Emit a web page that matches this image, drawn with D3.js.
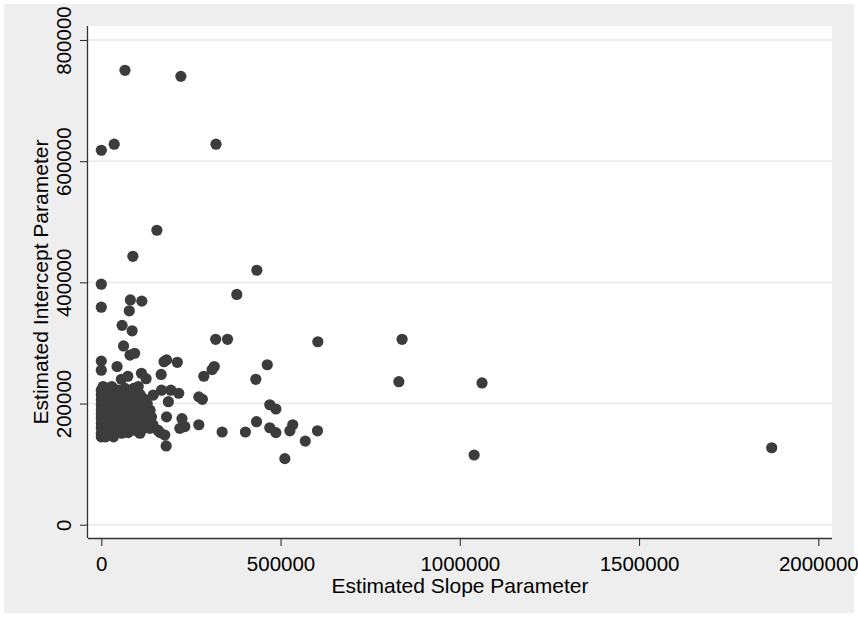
<!DOCTYPE html>
<html>
<head>
<meta charset="utf-8">
<script src="https://cdn.jsdelivr.net/npm/d3@7"></script>
<style>
  html, body { margin: 0; padding: 0; background: #ffffff; }
  svg { display: block; }
  text { font-family: "Liberation Sans", Arial, Helvetica, sans-serif; fill: #000; }
</style>
</head>
<body>
<svg id="chart" width="858" height="617"></svg>
<script>
// Estimated slope parameter (x) values
const slopes = [
  66000, 222000, 0, 36000, 320000, 155000, 88000, 434000, 0, 378000,
  81000, 113000, 0, 78000, 58000, 86000, 319000, 352000, 62000, 93000,
  80000, 604000, 839000, 830000, 1062000, 1040000, 1870000,
  463000, 431000, 470000, 487000, 433000, 402000, 470000, 487000, 534000,
  526000, 603000, 569000, 512000, 337000, 315000, 309000, 286000, 272000,
  282000, 272000,
  0, 0, 44000, 175000, 182000, 212000, 167000, 56000, 74000, 112000, 125000,
  29000, 66000, 103000, 145000, 168000, 194000, 216000, 187000, 136000, 131000,
  182000, 225000, 233000, 219000, 108000, 164000, 136000, 181000, 177000,
  34000, 57000, 0, 0, 144000, 158000,
  0, 0, 0, 0, 0, 0, 0, 0, 0,
  10000, 12000, 8000, 10000, 15000, 18000, 20000, 22000, 25000, 28000,
  30000, 32000, 35000, 38000, 40000, 42000, 45000, 48000, 50000, 52000,
  55000, 58000, 60000, 62000, 65000, 68000, 70000, 72000, 75000, 78000,
  80000, 82000, 85000, 88000, 90000, 92000, 95000, 98000, 100000, 102000,
  105000, 108000, 110000, 112000, 115000, 118000, 120000, 122000, 125000, 128000,
  5000, 15000, 45000, 90000, 130000, 140000, 12000, 20000
];
// Estimated intercept parameter (y) values
const intercepts = [
  750000, 740000, 618000, 628000, 628000, 486000, 443000, 420000, 397000, 380000,
  371000, 369000, 359000, 353000, 329000, 320000, 306000, 306000, 295000, 283000,
  280000, 302000, 306000, 236000, 234000, 115000, 127000,
  264000, 240000, 198000, 191000, 170000, 153000, 160000, 152000, 165000,
  155000, 155000, 138000, 109000, 153000, 261000, 256000, 245000, 211000,
  207000, 165000,
  270000, 255000, 261000, 269000, 272000, 268000, 248000, 240000, 245000, 250000, 241000,
  228000, 225000, 228000, 214000, 222000, 222000, 217000, 203000, 189000, 173000,
  178000, 175000, 162000, 159000, 151000, 152000, 159000, 130000, 148000,
  145000, 151000, 151000, 145000, 165000, 156000,
  160000, 168000, 176000, 183000, 190000, 198000, 206000, 214000, 222000,
  150000, 170000, 190000, 210000, 160000, 180000, 200000, 218000, 155000, 172000,
  190000, 205000, 165000, 183000, 198000, 215000, 158000, 175000, 192000, 208000,
  168000, 185000, 200000, 215000, 160000, 178000, 195000, 210000, 152000, 170000,
  188000, 202000, 218000, 162000, 180000, 195000, 210000, 155000, 172000, 188000,
  200000, 215000, 165000, 180000, 195000, 208000, 170000, 185000, 160000, 200000,
  228000, 225000, 222000, 225000, 185000, 178000, 145000, 152000
];
const xTicks = [0, 500000, 1000000, 1500000, 2000000];
const yTicks = [0, 200000, 400000, 600000, 800000];
const xTitle = "Estimated Slope Parameter";
const yTitle = "Estimated Intercept Parameter";

const points = slopes.map((s, i) => ({ x: s, y: intercepts[i] }));

const svg = d3.select("#chart");
const W = 858, H = 617;

// outer graph region
svg.append("rect").attr("x", 0).attr("y", 0).attr("width", W).attr("height", H).attr("fill", "#ffffff");
svg.append("rect").attr("x", 4).attr("y", 4).attr("width", 850).attr("height", 609).attr("fill", "#eeeeee");

const plot = { left: 88, right: 832, top: 26, bottom: 538 };
svg.append("rect")
  .attr("x", plot.left).attr("y", plot.top)
  .attr("width", plot.right - plot.left).attr("height", plot.bottom - plot.top)
  .attr("fill", "#ffffff");

const x = d3.scaleLinear().domain([0, 2000000]).range([101.3, 818.3]);
const y = d3.scaleLinear().domain([0, 800000]).range([524.7, 40]);

// gridlines
svg.append("g").selectAll("line").data(yTicks).join("line")
  .attr("x1", plot.left).attr("x2", plot.right)
  .attr("y1", d => y(d)).attr("y2", d => y(d))
  .attr("stroke", "#eaeaea").attr("stroke-width", 1.6);

// points
svg.append("g").selectAll("circle").data(points).join("circle")
  .attr("cx", d => x(d.x)).attr("cy", d => y(d.y))
  .attr("r", 5.6).attr("fill", "#3c3c3c");

// x axis
const xAxis = d3.axisBottom(x).tickValues(xTicks).tickFormat(d3.format("d")).tickSize(8).tickPadding(10);
const gx = svg.append("g").attr("transform", `translate(0,${plot.bottom})`).call(xAxis);
gx.select(".domain").attr("d", `M${plot.left},0.5H${plot.right}`).attr("stroke", "#333").attr("stroke-width", 1.3);
gx.selectAll(".tick line").attr("stroke", "#333").attr("stroke-width", 1.1);
gx.selectAll(".tick text").attr("font-size", 20.5).attr("font-family", "Liberation Sans, Arial, sans-serif").attr("fill", "#000");

// y axis
const yAxis = d3.axisLeft(y).tickValues(yTicks).tickFormat(d3.format("d")).tickSize(8).tickPadding(9);
const gy = svg.append("g").attr("transform", `translate(${plot.left},0)`).call(yAxis);
gy.select(".domain").attr("d", `M-0.5,${plot.top}V${plot.bottom}`).attr("stroke", "#333").attr("stroke-width", 1.3);
gy.selectAll(".tick line").attr("stroke", "#333").attr("stroke-width", 1.1);
gy.selectAll(".tick text")
  .attr("font-size", 20.5).attr("font-family", "Liberation Sans, Arial, sans-serif").attr("fill", "#000")
  .attr("x", null).attr("dy", null)
  .attr("text-anchor", "middle")
  .attr("transform", "translate(-17,0) rotate(-90)");

// axis titles
svg.append("text")
  .attr("x", (plot.left + plot.right) / 2).attr("y", 593)
  .attr("text-anchor", "middle").attr("font-size", 21)
  .text(xTitle);
svg.append("text")
  .attr("transform", `translate(48,${(plot.top + plot.bottom) / 2}) rotate(-90)`)
  .attr("text-anchor", "middle").attr("font-size", 21)
  .text(yTitle);
</script>
</body>
</html>
